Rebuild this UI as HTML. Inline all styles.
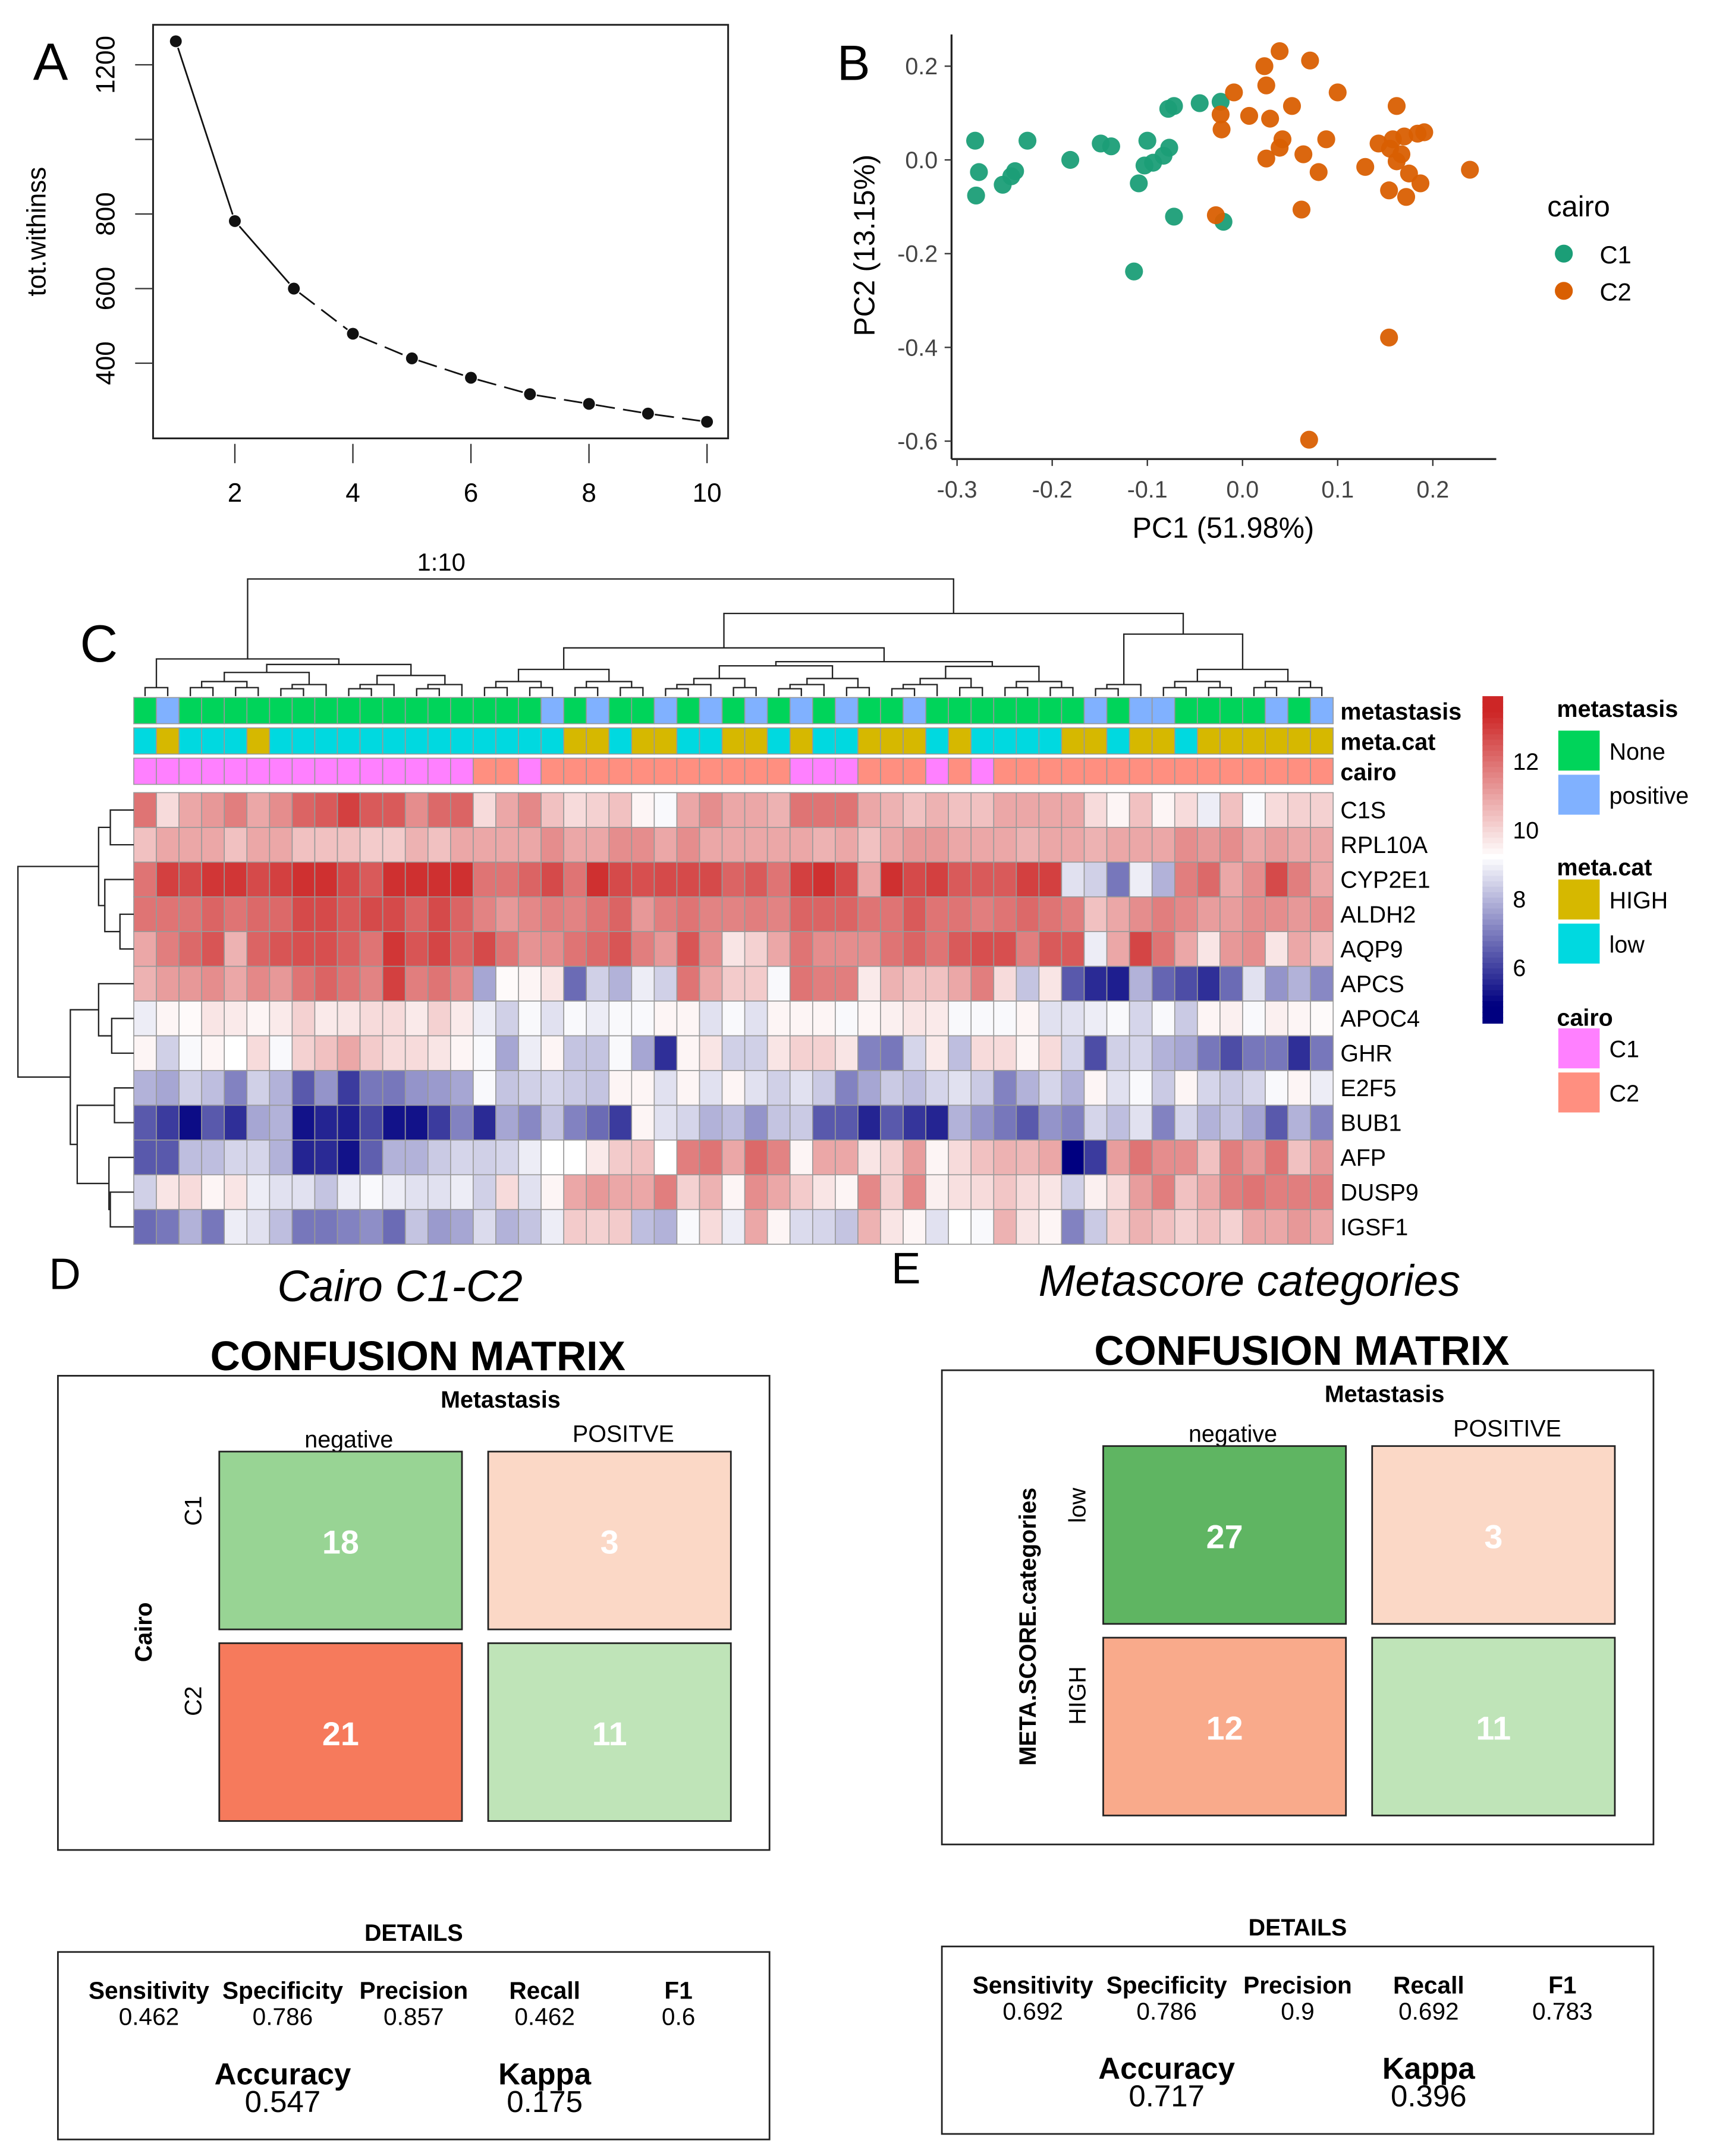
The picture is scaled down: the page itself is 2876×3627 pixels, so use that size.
<!DOCTYPE html>
<html><head><meta charset="utf-8"><style>
html,body{margin:0;padding:0;background:#fff;}
svg{display:block;font-family:"Liberation Sans",Arial,sans-serif;}
</style></head><body>
<svg id="fig" width="2876" height="3627" viewBox="0 0 1240 1564" preserveAspectRatio="none" xmlns="http://www.w3.org/2000/svg">
<rect x="0" y="0" width="1240" height="1564" fill="#fff"/>
<g id="pA"></g>
<g id="pB"></g>
<g id="pC"></g>
<g id="pD"></g>
<g id="pE"></g>
</svg>
<script>
// ---------- Panel A data ----------
const elbowK = [1,2,3,4,5,6,7,8,9,10];
const elbowWSS = [1263,781,600,479,413,361,317,291,265,243];
const elbowXTicks = [2,4,6,8,10];
const elbowYTicks = [400,600,800,1000,1200];
const elbowYLabels = ["400","600","800","","1200"];
// ---------- Panel B data ----------
const pcaC1x = [-0.281,-0.277,-0.280,-0.252,-0.243,-0.239,-0.226,-0.181,-0.149,-0.138,-0.100,-0.103,-0.109,-0.094,-0.083,-0.077,-0.078,-0.072,-0.045,-0.023,-0.072,-0.114,-0.020];
const pcaC1y = [0.041,-0.026,-0.076,-0.053,-0.035,-0.024,0.041,0.0,0.035,0.029,0.041,-0.012,-0.050,-0.006,0.009,0.026,0.109,0.115,0.121,0.124,-0.121,-0.238,-0.132];
const pcaC2x = [0.023,0.039,0.071,0.025,-0.009,-0.023,-0.022,0.007,0.029,0.052,0.100,0.162,0.088,0.042,0.025,0.039,0.064,0.080,0.062,-0.028,0.129,0.155,0.158,0.170,0.184,0.191,0.162,0.175,0.187,0.172,0.239,0.154,0.070,0.167,0.143,0.154];
const pcaC2y = [0.200,0.232,0.212,0.159,0.144,0.097,0.065,0.094,0.088,0.115,0.144,0.115,0.044,0.044,0.003,0.026,0.012,-0.026,-0.106,-0.118,-0.015,0.024,0.044,0.050,0.056,0.059,-0.003,-0.029,-0.050,-0.079,-0.021,-0.379,-0.597,0.012,0.035,-0.065];
const pcaXTicks = [-0.3,-0.2,-0.1,0.0,0.1,0.2];
const pcaXLabels = ["-0.3","-0.2","-0.1","0.0","0.1","0.2"];
const pcaYTicks = [0.2,0.0,-0.2,-0.4,-0.6];
const pcaYLabels = ["0.2","0.0","-0.2","-0.4","-0.6"];
// ---------- Panel C data ----------
const genes = ["C1S","RPL10A","CYP2E1","ALDH2","AQP9","APCS","APOC4","GHR","E2F5","BUB1","AFP","DUSP9","IGSF1"];
const annMetastasis = "NPNNNNNNNNNNNNNNNNPNPNNPNPNPNPNPNNPNNNNNNNPNPPNNNNPNP";
const annMetaCat    = "LHLLLHLLLLLLLLLLLLLHHLHHLLHHLHLLHHHLHLLLLHHLHHLHHHHHH";
const annCairo      = "11111111111111122122222222222111222121222222222222222";
const rowC1S   = [12,10,11,11.3,11.8,11,11.5,12.3,12.5,13,12.5,12.5,11.5,12.2,12.3,10,11,11.6,10.5,10,10.2,10.5,9.5,9.2,11,11.5,11,11,10.8,12,12,12,11,10.8,10.5,10.8,10.5,10.5,11,11,11,11,10,9.5,10.5,9.5,10,9,10.5,9.2,10,10.2,10.2];
const rowRPL10A= [10.5,11,11,11,10.5,11,11,10.5,10.5,10.5,10.3,10.3,10.8,10.5,11,11,11,11,11.5,11,11,11.5,11.5,11,11.5,11,11,11,11,11,10.8,11,10.5,11,11.3,11.3,11,11,11,10.8,11,11,10.8,11,11,11,11.5,11.3,11.5,11,11.2,11,11];
const rowCYP2E1= [12,13,12.8,13.2,13.2,12.8,13,13.3,13.3,12.8,12.5,13.3,13.3,13.3,13.3,12,12,12.3,12.8,12,13.3,12.8,12.7,12.8,12.8,12.8,12.3,12.5,12,13,13.3,12.8,11,13.3,12.8,13,12.5,12.5,12.5,13,13,8.8,8.5,7,9,8,11.8,12.2,11,11.5,12.8,11.8,11];
const rowALDH2 = [12,12,12,12.3,12,12.2,12.2,12.8,12.8,12.5,12.8,12.8,12.3,12.8,12.3,11.7,11.3,11.6,11.8,11.7,12,12.3,11.3,11.8,12,11.7,11.7,11.8,11.7,12.3,12.3,12.3,12,12,12.5,12,12,11.8,12,12.2,12,11.8,10.5,11,11.5,11.8,11.6,11.2,11.2,11.5,11.5,11.3,11.5];
const rowAQP9  = [11,11.8,12.2,12.6,10.8,12.3,12.6,12.7,12.7,12.4,12,13.2,12.6,12.9,12.3,12.8,12,11.4,11.5,12,12.2,12.6,11.8,11.3,12.6,11.5,9.8,10.2,11,12,11.5,11.5,11.5,12,12.3,12,12.5,12.7,12.7,11.8,12.5,12.5,9,11,12.9,12,11,9.8,11.3,11.5,9.8,11,10.5];
const rowAPCS  = [10.8,11.2,11.3,11.5,11,11.6,11.3,12,12.3,12,11.7,13,11.8,12,11.6,7.8,9.4,9.5,9.8,6.8,8.5,8,9,8.5,12,11,10.3,10.3,9.2,12,11.8,11.8,9.7,10.8,10.5,10.5,11,11.8,10,8.3,9.8,6.5,5.7,5.5,8,6.7,6.3,5.8,6.8,8.8,7.5,8,7.3];
const rowAPOC4 = [9,9.5,9.4,9.8,9.7,9.5,9.7,10.2,9.7,9.8,10,10,9.7,10.2,9.7,9,8.5,9.2,8.8,9.2,9,9.2,9.2,9.5,9.5,8.8,9.2,8.8,9.5,9.5,9.5,9.2,9.5,9.6,9.8,9.7,9.2,9.2,9.2,9.5,8.8,8.8,9,9.2,8.6,9.2,8.4,9.5,9.6,9.2,9.6,9.5,9.4];
const rowGHR   = [9.5,8.5,9.2,9.5,9.3,10,9.2,10.2,10.5,11,10.3,10,10,9.8,9.5,9.2,7.8,9,9.5,8.3,8.3,9.2,7.8,5.8,9.5,9.8,8.5,8.5,9.8,10.2,10.2,9.8,7.2,7,8.6,9.7,8.2,10,10,9.5,10,8.6,6.3,8.5,8.6,8,7.8,7,6.3,7,7,5.8,7];
const rowE2F5  = [8,7.8,8.5,8.2,7.2,8.5,8,6.5,7.5,6,7,7,7.5,7.6,7.8,9.2,8.3,8.5,8.6,8.4,8.3,9.5,9.5,8.8,9.5,8.8,9.5,8.8,8.5,8.8,8.4,7.2,7.8,8.4,8.2,8.6,8.8,8.4,7.2,8,8.6,8,9.5,8.8,9.2,8.4,9.5,8.6,8.4,8.6,9.2,9.5,9];
const rowBUB1  = [6.5,6,5.2,6.5,5.8,7.8,8,5.3,5.6,5.5,6.2,5.3,5.3,6,7.2,5.7,7.8,7.3,8.3,7.2,6.8,6,9.5,8.8,8.6,8,8.2,7.5,8.3,8.4,6.5,6.5,5.6,6.5,5.9,5.6,8,7.5,7,6.5,7.5,7.2,8.6,8.2,8.8,7.2,8.6,8,8.3,7.8,6.5,8,7.2];
const rowAFP   = [6.5,6.5,8.2,8.2,8.6,8.6,8,5.6,5.7,5.3,6.6,8,8,8.4,8.6,8.5,8.6,9,9.3,9.3,9.7,10.3,10.5,9.3,11.8,12,11,12.2,11.7,9.5,11,11,9.8,10.2,11.2,9.5,10,10.5,10.8,10.7,11,5,6,11.2,12,11.5,11.5,10.5,11.8,11.3,12,10.5,11.3];
const rowDUSP9 = [8.5,9.8,10,9.5,9.8,9,8.8,8.8,8.3,9,9.2,9,8.8,8.8,9,8.5,10,8.8,9.5,11,11.3,11,11,11.8,10.2,10.8,9.5,11.5,11,10.3,9.8,9.5,11.6,10.2,11.6,9.6,9.9,10,10.4,10,9.8,8.5,9.6,10,11.2,11.8,10.5,11,11.8,12,11.8,11.8,11.8];
const rowIGSF1 = [6.8,7,8,7,9,8.8,8.2,7,7,7.2,7.4,6.8,8.3,7.6,7.8,8.7,8,8.3,9,10.3,10.2,10.3,8.2,8,9.2,10,9,11,9.5,8.7,8.6,8.3,10.8,9.8,9.5,8.8,9.3,9.2,10.8,9.8,9.5,7.2,8.4,10.2,10.8,10.5,10.2,10.5,10.2,11,11,11.3,11];
const heatRows = [rowC1S,rowRPL10A,rowCYP2E1,rowALDH2,rowAQP9,rowAPCS,rowAPOC4,rowGHR,rowE2F5,rowBUB1,rowAFP,rowDUSP9,rowIGSF1];
const colorbarTicks = [6,8,10,12];
// ---------- Panel D/E data ----------
const cmDValues = [18,3,21,11];
const cmDColors = ["#98d494","#fbd8c6","#f67a5c","#bfe4b8"];
const cmEValues = [27,3,12,11];
const cmEColors = ["#5fb562","#fbd8c6","#f9aa8b","#bfe4b8"];
const detailNames = ["Sensitivity","Specificity","Precision","Recall","F1"];
const detailD = ["0.462","0.786","0.857","0.462","0.6"];
const detailE = ["0.692","0.786","0.9","0.692","0.783"];
const summaryNames = ["Accuracy","Kappa"];
const summaryD = ["0.547","0.175"];
const summaryE = ["0.717","0.396"];

const NS="http://www.w3.org/2000/svg";
function mk(parent,tag,attrs,text){const e=document.createElementNS(NS,tag);for(const k in attrs)e.setAttribute(k,attrs[k]);if(text!==undefined)e.textContent=text;parent.appendChild(e);return e;}

// ================= Panel A =================
(function(){
const g=document.getElementById('pA');
const xA=k=>127.5+(k-1)*42.8;
const yA=v=>47+(1200-v)*0.2706;
let t=mk(g,'text',{x:24,y:58,'font-size':38},'A');


let r=mk(g,'rect',{x:111,y:18,width:417,height:300,fill:'none',stroke:'#222','stroke-width':1.3});


elbowXTicks.forEach(v=>{mk(g,'line',{x1:xA(v),x2:xA(v),y1:322,y2:336,stroke:'#333','stroke-width':1});
 const tl=mk(g,'text',{x:xA(v),y:364,'font-size':19,'text-anchor':'middle'},String(v));
 
 });
elbowYTicks.forEach((v,i)=>{mk(g,'line',{x1:98,x2:111,y1:yA(v),y2:yA(v),stroke:'#333','stroke-width':1});
 if(elbowYLabels[i]){const tl=mk(g,'text',{x:0,y:0,'font-size':19,'text-anchor':'middle',transform:`translate(83,${yA(v)}) rotate(-90)`},elbowYLabels[i]);
 
 }});
const yt=mk(g,'text',{x:0,y:0,'font-size':19,'text-anchor':'middle',transform:'translate(33,168) rotate(-90)'},'tot.withinss');


for(let i=0;i<elbowK.length-1;i++){
 const x1=xA(elbowK[i]),y1=yA(elbowWSS[i]),x2=xA(elbowK[i+1]),y2=yA(elbowWSS[i+1]);
 const dx=x2-x1,dy=y2-y1,L=Math.hypot(dx,dy),s=5/L;
 const ln=mk(g,'line',{x1:x1+dx*s,y1:y1+dy*s,x2:x2-dx*s,y2:y2-dy*s,stroke:'#111','stroke-width':1.2,'stroke-dasharray':i<2?'none':'14,6'});
 
 }
elbowK.forEach((k,i)=>{const c=mk(g,'circle',{cx:xA(k),cy:yA(elbowWSS[i]),r:4.3,fill:'#111'});
 
 });
})();

// ================= Panel B =================
(function(){
const g=document.getElementById('pB');
const xB=v=>901+v*690, yB=v=>116-v*340;
let t=mk(g,'text',{x:607,y:58,'font-size':36},'B');


mk(g,'line',{x1:690,x2:690,y1:25,y2:333,stroke:'#222','stroke-width':1.4});
mk(g,'line',{x1:690,x2:1085,y1:333,y2:333,stroke:'#222','stroke-width':1.4});
pcaXTicks.forEach((v,i)=>{mk(g,'line',{x1:xB(v),x2:xB(v),y1:333,y2:338,stroke:'#333'});
 const tl=mk(g,'text',{x:xB(v),y:361,'font-size':17,'text-anchor':'middle',fill:'#444'},pcaXLabels[i]);
 
 });
pcaYTicks.forEach((v,i)=>{mk(g,'line',{x1:685,x2:690,y1:yB(v),y2:yB(v),stroke:'#333'});
 const tl=mk(g,'text',{x:680,y:yB(v)+6,'font-size':17,'text-anchor':'end',fill:'#444'},pcaYLabels[i]);
 
 });
const xt=mk(g,'text',{x:887,y:390,'font-size':21,'text-anchor':'middle'},'PC1 (51.98%)');


const yt=mk(g,'text',{x:0,y:0,'font-size':21,'text-anchor':'middle',transform:'translate(634,178) rotate(-90)'},'PC2 (13.15%)');


pcaC1x.forEach((v,i)=>{const c=mk(g,'circle',{cx:xB(v),cy:yB(pcaC1y[i]),r:6.5,fill:'#1b9e77','fill-opacity':0.95});
 
 });
pcaC2x.forEach((v,i)=>{const c=mk(g,'circle',{cx:xB(v),cy:yB(pcaC2y[i]),r:6.5,fill:'#d95f02','fill-opacity':0.95});
 
 });
const lt=mk(g,'text',{x:1122,y:157,'font-size':21},'cairo');


[['C1','#1b9e77',184],['C2','#d95f02',211]].forEach(a=>{
 const c=mk(g,'circle',{cx:1134,cy:a[2],r:6.5,fill:a[1]});
 
 
 const lt2=mk(g,'text',{x:1160,y:a[2]+7,'font-size':18},a[0]);
 
 });
})();

// ================= Panel C =================
(function(){
const g=document.getElementById('pC');
const X0=97, CW=16.41, Y0=575, RH=25.2;
const colX=c=>X0+c*CW, rowY=r=>Y0+r*RH;
const vmin=5, vmax=13.5, vmid=9.3;
function col(v){
 const lerp=(a,b,t)=>Math.round(a+(b-a)*t);
 v=Math.max(vmin,Math.min(vmax,v));
 if(v<vmid){const t=(v-vmin)/(vmid-vmin);return `rgb(${lerp(0,255,t)},${lerp(0,255,t)},${lerp(128,255,t)})`;}
 const t=(v-vmid)/(vmax-vmid);return `rgb(${lerp(255,205,t)},${lerp(255,38,t)},${lerp(255,38,t)})`;}
let t=mk(g,'text',{x:58,y:480,'font-size':38},'C');


const tt=mk(g,'text',{x:320,y:414,'font-size':18,'text-anchor':'middle'},'1:10');


const nC=rowC1S.length;
const annColors={N:'#00d45a',P:'#80b1ff',H:'#d6b800',L:'#00d9e0','1':'#ff80ff','2':'#ff8f80'};
const anns=[annMetastasis,annMetaCat,annCairo], annY=[506,528,550], annNames=['metastasis','meta.cat','cairo'];
anns.forEach((s,a)=>{for(let c=0;c<nC;c++){const r=mk(g,'rect',{x:colX(c),y:annY[a],width:CW,height:19,fill:annColors[s[c]],stroke:'#999','stroke-width':0.7});
 
 }
 const lt=mk(g,'text',{x:972,y:annY[a]+16,'font-size':17,'font-weight':'bold'},annNames[a]);
 
 });
heatRows.forEach((row,r)=>{row.forEach((v,c)=>{const e=mk(g,'rect',{x:colX(c),y:rowY(r),width:CW,height:RH,fill:col(v),stroke:'#999','stroke-width':0.7});
 
 });
 const lt=mk(g,'text',{x:972,y:rowY(r)+RH/2+6,'font-size':17},genes[r]);
 
 });
// column dendrogram
const dg=mk(g,'g',{stroke:'#222','stroke-width':1,fill:'none'});


function leafX(c){return colX(c)+CW/2;}
function autoTree(lo,hi,top){
 if(lo===hi) return {x:leafX(lo),y:505};
 const mid=Math.floor((lo+hi)/2);
 const span=hi-lo;
 const y=Math.max(top,505-4-span*2.2);
 const a=autoTree(lo,mid,y+3),b=autoTree(mid+1,hi,y+3);
 mk(dg,'path',{d:`M${a.x},${a.y}V${y}H${b.x}V${b.y}`});
 return {x:(a.x+b.x)/2,y};}
function join(a,b,y){mk(dg,'path',{d:`M${a.x},${a.y}V${y}H${b.x}V${b.y}`});return {x:(a.x+b.x)/2,y};}
const L1=join(autoTree(0,1,490),autoTree(2,14,482),478);
const R1=join(autoTree(15,22,484),autoTree(23,41,480),470);
const R2=join(autoTree(42,44,488),autoTree(45,52,478),460);
const R=join(R1,R2,445);
join(L1,R,420);
// row dendrogram
const rg=mk(g,'g',{stroke:'#222','stroke-width':1,fill:'none'});


const ry=r=>rowY(r)+RH/2;
function rj(a,b,x){mk(rg,'path',{d:`M${a.x},${a.y}H${x}V${b.y}H${b.x}`});return {x,y:(a.y+b.y)/2};}
const leaf=r=>({x:97,y:ry(r)});
const top=rj(rj(leaf(0),leaf(1),80),rj(leaf(2),rj(leaf(3),leaf(4),87),76),71.5);
const b1=rj(leaf(5),rj(leaf(6),leaf(7),81),71.5);
const b2=rj(rj(leaf(8),leaf(9),83),rj(leaf(10),rj(leaf(11),leaf(12),80),79),56);
rj(top,rj(b1,b2,51),13);
// colorbar
const cbTop=505,cbBot=742,cbMax=13.9,cbMin=4.4;
const cbY=v=>cbTop+(cbMax-v)/(cbMax-cbMin)*(cbBot-cbTop);
for(let i=0;i<60;i++){const v1=cbMax-(cbMax-cbMin)*i/60;const r=mk(g,'rect',{x:1075,y:cbTop+(cbBot-cbTop)*i/60,width:15,height:(cbBot-cbTop)/60+0.6,fill:col(v1)});
 
 }
colorbarTicks.forEach(v=>{const tl=mk(g,'text',{x:1097,y:cbY(v)+6,'font-size':17},String(v));
 
 });
const leg=[['metastasis',514,[['None','#00d45a',530],['positive','#80b1ff',562]]],['meta.cat',629,[['HIGH','#d6b800',638],['low','#00d9e0',670]]],['cairo',738,[['C1','#ff80ff',746],['C2','#ff8f80',778]]]];
leg.forEach(l=>{const lt=mk(g,'text',{x:1129,y:l[1]+6,'font-size':17,'font-weight':'bold'},l[0]);
 
 
 l[2].forEach(e=>{const r=mk(g,'rect',{x:1130,y:e[2],width:30,height:29,fill:e[1]});
  
  
  const et=mk(g,'text',{x:1167,y:e[2]+21,'font-size':17},e[0]);
  
  });});
})();

// ================= Panels D / E =================
function confusion(gid,ox,oy,letter,letterX,title,rowTitle,rowLabs,posLab,vals,cols,det,summ,titleX){
 const g=document.getElementById(gid);
 const T=(x,y,s,txt,o,name)=>{const e=mk(g,'text',Object.assign({x:x+ox,y:y+oy,'font-size':s,'text-anchor':'middle'},o||{}),txt);
  
  return e;};
 T(letterX,935,32,letter,{},'panel-label');
 T(titleX,944,32,title,{'font-style':'italic'},'panel-subtitle');
 T(303,994,30,'CONFUSION MATRIX',{'font-weight':'bold'},'matrix-title');
 const fr=mk(g,'rect',{x:42+ox,y:998+oy,width:516,height:344,fill:'none',stroke:'#222','stroke-width':1.2});
 
 
 T(363,1021,17,'Metastasis',{'font-weight':'bold'},'column-axis-title');
 T(253,1050,17,'negative',{},'column-label-negative');
 T(452,1046,17,posLab,{},'column-label-positive');
 const cx=[159,354], cy=[1053,1192];
 for(let i=0;i<4;i++){const x=cx[i%2]+ox,y=cy[Math.floor(i/2)]+oy;
  const r=mk(g,'rect',{x,y,width:176,height:129,fill:cols[i],stroke:'#222','stroke-width':1.2});
  
  
  const v=mk(g,'text',{x:x+88,y:y+74,'font-size':24,'font-weight':'bold','text-anchor':'middle',fill:'#fff'},String(vals[i]));
  
  }
 [[rowLabs[0],1118],[rowLabs[1],1256]].forEach(a=>{const e=mk(g,'text',{x:0,y:0,'font-size':17,'text-anchor':'middle',transform:`translate(${146+ox},${a[1]+oy-22}) rotate(-90)`},a[0]);
  
  });
 const rt=mk(g,'text',{x:0,y:0,'font-size':17,'font-weight':'bold','text-anchor':'middle',transform:`translate(${110+ox},${1184+oy}) rotate(-90)`},rowTitle);
 
 
 T(300,1408,17,'DETAILS',{'font-weight':'bold'},'details-title');
 const df=mk(g,'rect',{x:42+ox,y:1416+oy,width:516,height:136,fill:'none',stroke:'#222','stroke-width':1.2});
 
 
 const dx=[108,205,300,395,492];
 detailNames.forEach((n,i)=>{T(dx[i],1450,17.5,n,{'font-weight':'bold'},'metric-name');T(dx[i],1469,17.5,det[i],{},'metric-value');});
 const sx=[205,395];
 summaryNames.forEach((n,i)=>{T(sx[i],1512,22,n,{'font-weight':'bold'},'summary-name');T(sx[i],1532,22,summ[i],{},'summary-value');});
}
confusion('pD',0,0,'D',47,'Cairo C1-C2','Cairo',['C1','C2'],'POSITVE',cmDValues,cmDColors,detailD,summaryD,290);
confusion('pE',641,-4,'E',16,'Metascore categories','META.SCORE.categories',['low','HIGH'],'POSITIVE',cmEValues,cmEColors,detailE,summaryE,265);
</script>
</body></html>
